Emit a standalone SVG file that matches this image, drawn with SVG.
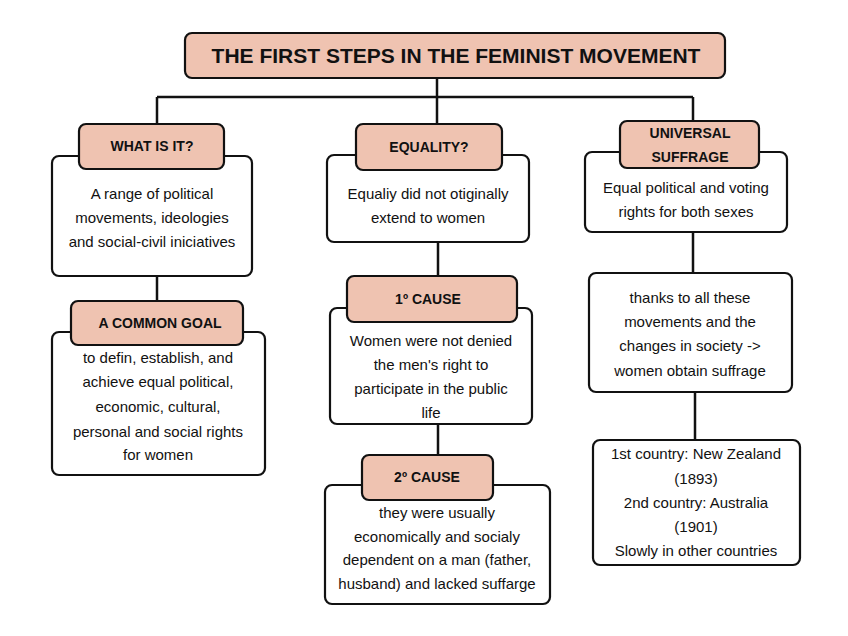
<svg xmlns="http://www.w3.org/2000/svg" width="848" height="636" viewBox="0 0 848 636">
<style>
.box{fill:#ffffff;stroke:#111;stroke-width:2.2}
.hdr{fill:#efc3b1;stroke:#111;stroke-width:2.2}
.t{font-family:"Liberation Sans",Arial,sans-serif;font-size:15px;fill:#111;text-anchor:middle;dominant-baseline:central}
.h{font-family:"Liberation Sans",Arial,sans-serif;font-size:14px;font-weight:bold;fill:#111;text-anchor:middle;dominant-baseline:central}
.ttl{font-family:"Liberation Sans",Arial,sans-serif;font-size:21px;font-weight:bold;fill:#111;text-anchor:middle;dominant-baseline:central}
.c{stroke:#111;stroke-width:2.5;fill:none}
</style>
<rect width="848" height="636" fill="#ffffff"/>
<g id="connectors">
<path class="c" d="M437 78V97M157 97H693M157 97V125M437 97V124M693 97V122"/>
<path class="c" d="M157 276V301"/>
<path class="c" d="M438 242V276M438 424V455"/>
<path class="c" d="M693 232V273M695 392V440"/>
</g>
<g id="title">
<rect class="hdr" x="185" y="33" width="540" height="45" rx="7"/>
<text class="ttl" x="456" y="55">THE FIRST STEPS IN THE FEMINIST MOVEMENT</text>
</g>
<g id="what-body">
<rect class="box" x="52" y="156" width="200" height="120" rx="7"/>
<text class="t" x="152" y="193">A range of political</text>
<text class="t" x="152" y="217">movements, ideologies</text>
<text class="t" x="152" y="241">and social-civil iniciatives</text>
</g>
<g id="what-header">
<rect class="hdr" x="79" y="124" width="145" height="45" rx="7"/>
<text class="h" x="152" y="146">WHAT IS IT?</text>
</g>
<g id="goal-body">
<rect class="box" x="52" y="332" width="213" height="143" rx="7"/>
<text class="t" x="158" y="357">to defin, establish, and</text>
<text class="t" x="158" y="381">achieve equal political,</text>
<text class="t" x="158" y="406">economic, cultural,</text>
<text class="t" x="158" y="431">personal and social rights</text>
<text class="t" x="158" y="454">for women</text>
</g>
<g id="goal-header">
<rect class="hdr" x="71" y="301" width="172" height="44" rx="7"/>
<text class="h" x="160" y="323">A COMMON GOAL</text>
</g>
<g id="equality-body">
<rect class="box" x="327" y="155" width="202" height="87" rx="7"/>
<text class="t" x="428" y="193">Equaliy did not otiginally</text>
<text class="t" x="428" y="217">extend to women</text>
</g>
<g id="equality-header">
<rect class="hdr" x="356" y="124" width="146" height="46" rx="7"/>
<text class="h" x="429" y="147">EQUALITY?</text>
</g>
<g id="cause1-body">
<rect class="box" x="330" y="308" width="202" height="116" rx="7"/>
<text class="t" x="431" y="340">Women were not denied</text>
<text class="t" x="431" y="364">the men's right to</text>
<text class="t" x="431" y="388">participate in the public</text>
<text class="t" x="431" y="412">life</text>
</g>
<g id="cause1-header">
<rect class="hdr" x="347" y="276" width="170" height="46" rx="7"/>
<text class="h" x="428" y="299">1º CAUSE</text>
</g>
<g id="cause2-body">
<rect class="box" x="325" y="485" width="225" height="119" rx="7"/>
<text class="t" x="437" y="512">they were usually</text>
<text class="t" x="437" y="536">economically and socialy</text>
<text class="t" x="437" y="559">dependent on a man (father,</text>
<text class="t" x="437" y="583">husband) and lacked suffarge</text>
</g>
<g id="cause2-header">
<rect class="hdr" x="362" y="455" width="131" height="45" rx="7"/>
<text class="h" x="427" y="477">2º CAUSE</text>
</g>
<g id="suffrage-body">
<rect class="box" x="585" y="152" width="202" height="80" rx="7"/>
<text class="t" x="686" y="187">Equal political and voting</text>
<text class="t" x="686" y="211">rights for both sexes</text>
</g>
<g id="suffrage-header">
<rect class="hdr" x="620" y="121" width="139" height="47" rx="7"/>
<text class="h" x="690" y="133">UNIVERSAL</text>
<text class="h" x="690" y="157">SUFFRAGE</text>
</g>
<g id="thanks">
<rect class="box" x="589" y="273" width="203" height="119" rx="7"/>
<text class="t" x="690" y="297">thanks to all these</text>
<text class="t" x="690" y="321">movements and the</text>
<text class="t" x="690" y="345">changes in society -&gt;</text>
<text class="t" x="690" y="370">women obtain suffrage</text>
</g>
<g id="countries">
<rect class="box" x="593" y="440" width="207" height="125" rx="7"/>
<text class="t" x="696" y="453">1st country: New Zealand</text>
<text class="t" x="696" y="478">(1893)</text>
<text class="t" x="696" y="502">2nd country: Australia</text>
<text class="t" x="696" y="526">(1901)</text>
<text class="t" x="696" y="550">Slowly in other countries</text>
</g>
</svg>
